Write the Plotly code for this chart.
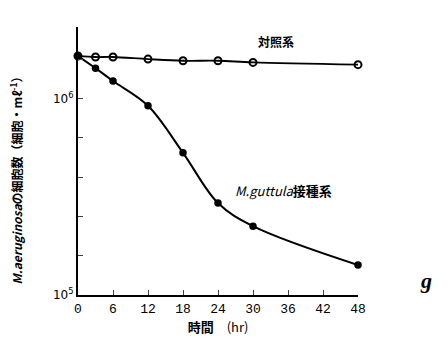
import plotly.graph_objects as go
import numpy as np

hours_ctrl = [0, 3, 6, 12, 18, 24, 30, 48]
ctrl = [1.65e6, 1.63e6, 1.63e6, 1.59e6, 1.56e6, 1.56e6, 1.53e6, 1.49e6]
hours_inoc = [0, 3, 6, 12, 18, 24, 30, 48]
inoc = [1.65e6, 1.43e6, 1.23e6, 9.2e5, 5.3e5, 2.94e5, 2.24e5, 1.42e5]
xticks = [0, 6, 12, 18, 24, 30, 36, 42, 48]
ymax_log = 6.365
ytick_logs = [5.0, 5.2, 5.4, 5.6, 5.8, 6.0, 6.2, ymax_log]
ytick_text = ["10<sup>5</sup>", "", "", "", "", "10<sup>6</sup>", "", ""]

fig = go.Figure()
fig.add_trace(go.Scatter(x=hours_ctrl, y=ctrl, mode="lines+markers",
                         line=dict(color="black", width=1.8, shape="spline"),
                         marker=dict(symbol="circle-open", size=7, color="black",
                                     line=dict(width=2, color="black")),
                         showlegend=False, cliponaxis=False))
fig.add_trace(go.Scatter(x=hours_inoc, y=inoc, mode="lines+markers",
                         line=dict(color="black", width=2, shape="spline"),
                         marker=dict(symbol="circle", size=7.5, color="black"),
                         showlegend=False, cliponaxis=False))

fig.update_layout(
    width=447, height=343,
    margin=dict(l=70, r=97, t=19, b=56),
    plot_bgcolor="white", paper_bgcolor="white",
    font=dict(family="DejaVu Serif", color="black", size=11),
    xaxis=dict(range=[0, 48], tickvals=xticks, ticks="inside", ticklen=5,
               showline=True, linecolor="black", linewidth=2, showgrid=False,
               zeroline=False, tickfont=dict(family="Liberation Mono", size=13),
               title=dict(text="<b>時間</b>　(hr)", standoff=6,
                          font=dict(family="Noto Sans CJK JP", size=13))),
    yaxis=dict(type="log", range=[5, ymax_log],
               tickvals=[10 ** v for v in ytick_logs], ticktext=ytick_text,
               ticks="inside", ticklen=5, showline=True, linecolor="black",
               linewidth=2, showgrid=False, zeroline=False,
               tickfont=dict(family="DejaVu Sans", size=12)),
)
fig.add_annotation(xref="paper", yref="paper", x=-0.22, y=0.44,
                   text="<b><i>M.aeruginosa</i>の細胞数（細胞・mℓ<sup>-1</sup>）</b>",
                   textangle=-90, showarrow=False, xanchor="center", yanchor="middle",
                   font=dict(family="Noto Sans CJK JP", size=12))
fig.add_annotation(x=34, y=np.log10(1.95e6), text="<b>対照系</b>", showarrow=False,
                   font=dict(family="Noto Sans CJK JP", size=12), xanchor="center")
fig.add_annotation(x=26.5, y=np.log10(3.4e5), text="<i>M.guttula</i><b>接種系</b>", showarrow=False,
                   font=dict(family="Noto Sans CJK JP", size=13), xanchor="left")
fig.add_annotation(xref="paper", yref="paper", x=1.27, y=0.0, text="<b><i>g</i></b>",
                   showarrow=False, font=dict(family="Liberation Serif", size=22))
fig.write_html("out.html")
